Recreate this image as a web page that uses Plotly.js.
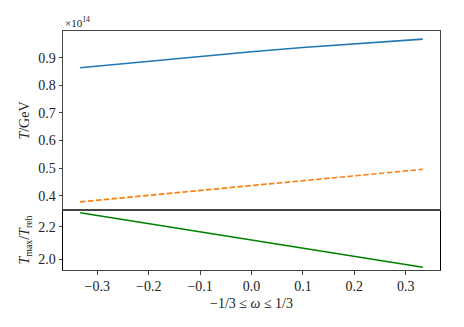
<!DOCTYPE html>
<html>
<head>
<meta charset="utf-8">
<script src="https://cdn.plot.ly/plotly-3.0.1.min.js"></script>
<style>
  html, body { margin: 0; padding: 0; background: #fff; }
  #chart { width: 464px; height: 327px; }
</style>
</head>
<body>
<div id="chart"></div>
<script>
// omega values and curves (T in units of 1e14 GeV)
const omega = [-1 / 3, -0.2, -0.1, 0, 0.1, 0.2, 1 / 3];
const tUpper = [0.864, 0.888, 0.906, 0.922, 0.937, 0.951, 0.9675];
const tLower = [0.378, 0.402, 0.419, 0.437, 0.455, 0.473, 0.496];
const tRatio = [2.286, 2.219, 2.169, 2.119, 2.069, 2.019, 1.953];

const font = { family: "Liberation Serif", size: 14, color: "#222" };
const spine = "#444";
const split = 60 / 239;

const traces = [
  { x: omega, y: tUpper, xaxis: "x2", yaxis: "y2", mode: "lines",
    line: { color: "#1f77b4", width: 1.6 } },
  { x: omega, y: tLower, xaxis: "x2", yaxis: "y2", mode: "lines",
    line: { color: "#ff7f0e", width: 1.6, dash: "5.5px,2.4px" } },
  { x: omega, y: tRatio, xaxis: "x", yaxis: "y", mode: "lines",
    line: { color: "#008000", width: 1.6 } },
];

const layout = {
  width: 464,
  height: 327,
  margin: { l: 63, r: 24, t: 31, b: 57 },
  paper_bgcolor: "#fff",
  plot_bgcolor: "#fff",
  showlegend: false,
  font: font,
  xaxis: {
    domain: [0, 1], anchor: "y", range: [-0.3667, 0.3667],
    tickvals: [-0.3, -0.2, -0.1, 0, 0.1, 0.2, 0.3], tickformat: ".1f",
    tickfont: font,
    ticks: "outside", ticklen: 3.5, tickcolor: spine,
    showline: true, mirror: true, linecolor: spine, linewidth: 1,
    showgrid: false, zeroline: false,
    title: { text: "\u22121/3 \u2264 <i>\u03c9</i> \u2264 1/3", font: font, standoff: 4 },
  },
  yaxis: {
    domain: [0, split], anchor: "x", range: [1.936, 2.303],
    tickvals: [2.0, 2.2], tickformat: ".1f", tickfont: font,
    ticks: "outside", ticklen: 3.5, tickcolor: spine,
    showline: true, mirror: true, linecolor: "#000", linewidth: 1,
    showgrid: false, zeroline: false,
    title: { text: "<i>T</i><sub>max</sub>/<i>T</i><sub>reh</sub>", font: font, standoff: 5 },
  },
  xaxis2: {
    domain: [0, 1], anchor: "y2", matches: "x", showticklabels: false,
    ticks: "", showline: true, mirror: true, linecolor: spine, linewidth: 1,
    showgrid: false, zeroline: false,
  },
  yaxis2: {
    domain: [split, 1], anchor: "x2", range: [0.3485, 0.997],
    tickvals: [0.4, 0.5, 0.6, 0.7, 0.8, 0.9], tickformat: ".1f", tickfont: font,
    ticks: "outside", ticklen: 3.5, tickcolor: spine,
    showline: true, mirror: true, linecolor: spine, linewidth: 1,
    showgrid: false, zeroline: false,
    title: { text: "<i>T</i>/GeV", font: font, standoff: 5 },
  },
  annotations: [
    { text: "\u00d710<sup>14</sup>", xref: "paper", yref: "paper", x: 0, y: 1,
      xanchor: "left", yanchor: "bottom", showarrow: false,
      font: { family: font.family, size: 11, color: "#222" } },
  ],
};

Plotly.newPlot("chart", traces, layout, { displayModeBar: false, staticPlot: true });
</script>
</body>
</html>
